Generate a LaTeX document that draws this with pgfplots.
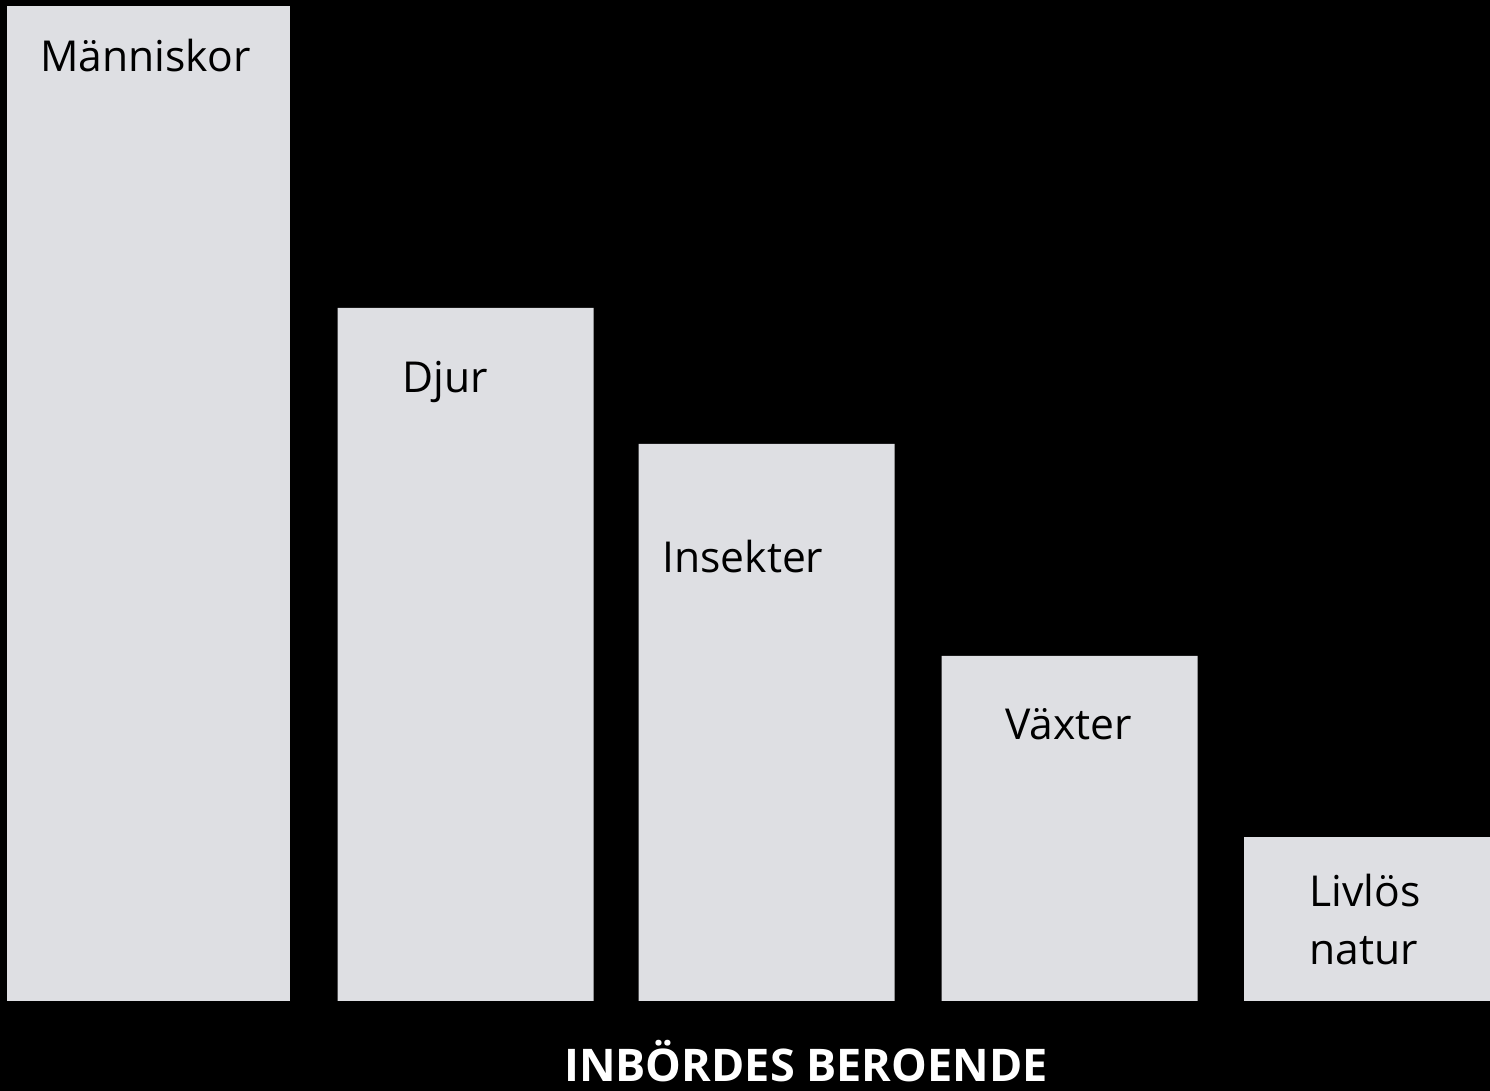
\documentclass[border=0pt]{standalone}
\usepackage{pgfplots}
\pgfplotsset{compat=1.18}
\usepackage{fontspec}
\setmainfont{Open Sans}
\definecolor{barc}{HTML}{DEDFE3}
\begin{document}
\begin{tikzpicture}[x=1pt,y=1pt]
\begin{axis}[
  scale only axis,
  width=745pt, height=500.5pt,
  xmin=0, xmax=1490, ymin=0, ymax=1001,
  axis lines=none,
  clip=false,
  ybar, bar shift=0pt,
]
\fill[black] (axis cs:0,-90) rectangle (axis cs:1490,1001);
\addplot[fill=barc, draw=none, bar width=283] coordinates {(148.5,995)};
\addplot[fill=barc, draw=none, bar width=256] coordinates {(465.5,693) (766.5,557) (1069.5,345)};
\addplot[fill=barc, draw=none, bar width=246] coordinates {(1367,164)};
\begin{scope}[every node/.style={anchor=base west, inner sep=0pt, font=\fontsize{21.3}{26}\selectfont}]
\node at (axis cs:40,929) {Människor};
\node at (axis cs:402,608) {Djur};
\node at (axis cs:662,428) {Insekter};
\node at (axis cs:1005,261) {Växter};
\node at (axis cs:1309,94) {Livlös};
\node at (axis cs:1309,36) {natur};
\end{scope}
\node[anchor=base, inner sep=0pt, text=white, font=\bfseries\fontsize{22.5}{26}\selectfont] at (axis cs:806,-81) {INBÖRDES BEROENDE};
\end{axis}
\end{tikzpicture}
\end{document}
